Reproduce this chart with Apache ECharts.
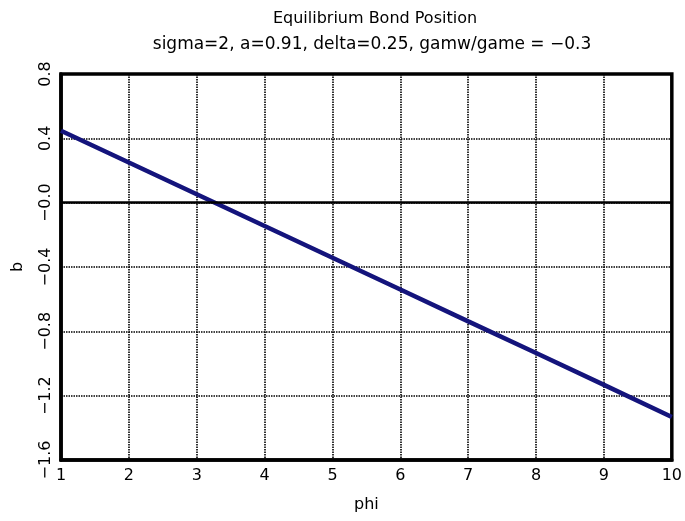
<!DOCTYPE html>
<html><head><meta charset="utf-8">
<script src="https://cdn.jsdelivr.net/npm/echarts@6/dist/echarts.min.js"></script>
<style>html,body{margin:0;padding:0;background:#fff}#c{width:685px;height:521px}</style>
</head><body><div id="c"></div>
<script>
const phi = [1, 2, 3, 4, 5, 6, 7, 8, 9, 10];
const bValues = [0.447, 0.25, 0.052, -0.145, -0.343, -0.54, -0.738, -0.935, -1.133, -1.333];
const xTicks = [1, 2, 3, 4, 5, 6, 7, 8, 9, 10];
const yTicks = ['−1.6', '−1.2', '−0.8', '−0.4', '−0.0', '0.4', '0.8'];
const titleText = 'Equilibrium Bond Position';
const subText = 'sigma=2, a=0.91, delta=0.25, gamw/game = −0.3';

const font = 'DejaVu Sans';
const chart = echarts.init(document.getElementById('c'));
chart.setOption({
  backgroundColor: '#fff',
  animation: false,
  title: [
    {text: titleText, left: 370, top: 6, textAlign: 'center',
     textStyle: {fontFamily: font, fontSize: 16, fontWeight: 'normal', color: '#000'}},
    {text: subText, left: 367, top: 31, textAlign: 'center',
     textStyle: {fontFamily: font, fontSize: 17, fontWeight: 'normal', color: '#000'}}
  ],
  grid: {left: 61, right: 10, top: 74, bottom: 61, show: true, borderColor: '#000', borderWidth: 3.5},
  xAxis: {
    type: 'value', min: 1, max: 10, interval: 1,
    name: 'phi', nameLocation: 'middle', nameGap: 37,
    nameTextStyle: {fontFamily: font, fontSize: 16, color: '#000'},
    axisLine: {show: true, onZero: false, lineStyle: {color: '#000', width: 3.5}},
    axisTick: {show: false},
    axisLabel: {fontFamily: font, fontSize: 16, color: '#000', margin: 8,
      formatter: v => { const i = xTicks.indexOf(v); return i >= 0 ? String(xTicks[i]) : ''; }},
    splitLine: {show: true, lineStyle: {color: '#000', width: 1.6, type: [1.5, 1]}}
  },
  yAxis: {
    type: 'value', min: -1.6, max: 0.8, interval: 0.4,
    name: 'b', nameLocation: 'middle', nameGap: 35, nameRotate: 90,
    nameTextStyle: {fontFamily: font, fontSize: 16, color: '#000'},
    axisLine: {show: true, lineStyle: {color: '#000', width: 3.5}},
    axisTick: {show: false},
    axisLabel: {fontFamily: font, fontSize: 16, color: '#000', rotate: 90, margin: 7,
      formatter: v => { const i = Math.round((v + 1.6) / 0.4); return yTicks[i] || ''; }},
    splitLine: {show: true, lineStyle: {color: '#000', width: 1.6, type: [1.5, 1]}}
  },
  series: [{
    type: 'line', data: phi.map((x, i) => [x, bValues[i]]),
    showSymbol: false, smooth: false,
    lineStyle: {color: '#14147c', width: 4.5},
    markLine: {silent: true, symbol: 'none', label: {show: false},
      lineStyle: {color: '#000', width: 2.5, type: 'solid'},
      data: [{yAxis: 0}]}
  }]
});
</script></body></html>
